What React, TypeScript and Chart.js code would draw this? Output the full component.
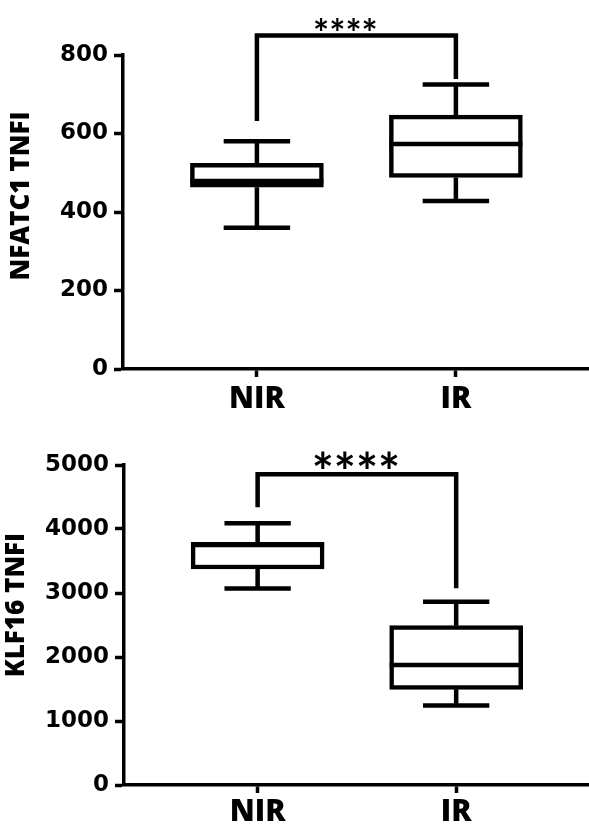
import React, { useEffect, useRef } from 'react';
import { Chart, registerables } from 'chart.js';

Chart.register(...registerables);

// ---------- data ----------
const CATEGORIES = ['NIR', 'IR'];
const SIGNIFICANCE = '****';

const NFATC1_TITLE = 'NFATC1 TNFI';
const NFATC1_TICKS = [0, 200, 400, 600, 800];
const NFATC1_MIN = [360, 428];
const NFATC1_Q1 = [463, 488];
const NFATC1_MEDIAN = [479, 573];
const NFATC1_Q3 = [524, 647];
const NFATC1_MAX = [580, 725];
// bracket: [left leg end, bar height, right leg end]
const NFATC1_BRACKET = [632, 850, 739];

const KLF16_TITLE = 'KLF16 TNFI';
const KLF16_TICKS = [0, 1000, 2000, 3000, 4000, 5000];
const KLF16_MIN = [3070, 1242];
const KLF16_Q1 = [3375, 1495];
const KLF16_MEDIAN = [3750, 1875];
const KLF16_Q3 = [3792, 2489];
const KLF16_MAX = [4091, 2864];
const KLF16_BRACKET = [4339, 4855, 3073];

// ---------- style / layout ----------
const W = 589;
const LINE = 4.5;
const AXIS_LINE = 3.5;
const CAP_HALF = 0.167; // x units
const X_MIN = 0.327;
const X_MAX = 2.669;
const LABEL_FONT = 'Open Sans';

type Panel = {
  title: string;
  ticks: number[];
  min: number[];
  q1: number[];
  median: number[];
  q3: number[];
  max: number[];
  bracket: number[];
  height: number;
  padTop: number;
  xAxisHeight: number;
  yAxisWidth: number;
  labelPad: number;
  titleX: number;
  titleY: number;
  starSize: number;
  starDX: number;
  starDY: number;
};

const PANELS: Panel[] = [
  {
    title: NFATC1_TITLE, ticks: NFATC1_TICKS, min: NFATC1_MIN, q1: NFATC1_Q1,
    median: NFATC1_MEDIAN, q3: NFATC1_Q3, max: NFATC1_MAX, bracket: NFATC1_BRACKET,
    height: 420, padTop: 55, xAxisHeight: 51, yAxisWidth: 123, labelPad: 4,
    titleX: 22, titleY: 196, starSize: 38, starDX: -11, starDY: 12,
  },
  {
    title: KLF16_TITLE, ticks: KLF16_TICKS, min: KLF16_MIN, q1: KLF16_Q1,
    median: KLF16_MEDIAN, q3: KLF16_Q3, max: KLF16_MAX, bracket: KLF16_BRACKET,
    height: 409, padTop: 45, xAxisHeight: 44, yAxisWidth: 124, labelPad: 1,
    titleX: 17, titleY: 185, starSize: 52, starDX: -1, starDY: 17,
  },
];

function makeConfig(p: Panel): any {
  const boxPlugin = {
    id: 'boxExtras',
    afterDatasetsDraw(chart: any) {
      const ctx = chart.ctx;
      const xs = chart.scales.x;
      const ys = chart.scales.y;
      const meta = chart.getDatasetMeta(0);
      ctx.save();
      ctx.strokeStyle = '#000';
      ctx.lineWidth = LINE;
      ctx.lineCap = 'butt';
      CATEGORIES.forEach((_, i) => {
        const el = meta.data[i];
        const { x, width } = el.getProps(['x', 'width'], true);
        const cx = xs.getPixelForValue(i + 1);
        const capL = xs.getPixelForValue(i + 1 - CAP_HALF);
        const capR = xs.getPixelForValue(i + 1 + CAP_HALF);
        // whiskers
        ctx.beginPath();
        ctx.moveTo(cx, ys.getPixelForValue(p.q3[i]));
        ctx.lineTo(cx, ys.getPixelForValue(p.max[i]));
        ctx.moveTo(cx, ys.getPixelForValue(p.q1[i]));
        ctx.lineTo(cx, ys.getPixelForValue(p.min[i]));
        ctx.stroke();
        ctx.beginPath();
        ctx.moveTo(capL, ys.getPixelForValue(p.max[i]));
        ctx.lineTo(capR, ys.getPixelForValue(p.max[i]));
        ctx.moveTo(capL, ys.getPixelForValue(p.min[i]));
        ctx.lineTo(capR, ys.getPixelForValue(p.min[i]));
        ctx.stroke();
        // median
        ctx.beginPath();
        ctx.moveTo(x - width / 2, ys.getPixelForValue(p.median[i]));
        ctx.lineTo(x + width / 2, ys.getPixelForValue(p.median[i]));
        ctx.stroke();
      });
      // significance bracket
      const x1 = xs.getPixelForValue(1);
      const x2 = xs.getPixelForValue(2);
      const yTop = ys.getPixelForValue(p.bracket[1]);
      ctx.lineJoin = 'miter';
      ctx.beginPath();
      ctx.moveTo(x1, ys.getPixelForValue(p.bracket[0]));
      ctx.lineTo(x1, yTop);
      ctx.lineTo(x2, yTop);
      ctx.lineTo(x2, ys.getPixelForValue(p.bracket[2]));
      ctx.stroke();
      ctx.fillStyle = '#000';
      ctx.font = `bold ${p.starSize}px Lato`;
      ctx.textAlign = 'center';
      ctx.textBaseline = 'alphabetic';
      ctx.fillText(SIGNIFICANCE, (x1 + x2) / 2 + p.starDX, yTop + p.starDY);
      // y-axis title
      ctx.save();
      ctx.translate(p.titleX, p.titleY);
      ctx.rotate(-Math.PI / 2);
      ctx.font = `800 26px "${LABEL_FONT}"`;
      ctx.textAlign = 'center';
      ctx.textBaseline = 'middle';
      ctx.fillText(p.title, 0, 0);
      ctx.restore();
      ctx.restore();
    },
  };

  return {
    type: 'bar',
    data: {
      datasets: [
        {
          data: CATEGORIES.map((_, i) => ({ x: i + 1, y: [p.q1[i], p.q3[i]] })),
          backgroundColor: '#fff',
          borderColor: '#000',
          borderWidth: LINE,
          borderSkipped: false,
          barThickness: 133,
        },
      ],
    },
    options: {
      responsive: false,
      animation: false,
      devicePixelRatio: 1,
      layout: { padding: { top: p.padTop, left: 0, right: 0, bottom: 0 } },
      plugins: { legend: { display: false }, tooltip: { enabled: false } },
      scales: {
        x: {
          type: 'linear',
          offset: false,
          min: X_MIN,
          max: X_MAX,
          afterBuildTicks: (s: any) => {
            s.ticks = CATEGORIES.map((_, i) => ({ value: i + 1 }));
          },
          afterFit: (s: any) => {
            s.height = p.xAxisHeight;
          },
          ticks: {
            callback: (v: number) => CATEGORIES[Math.round(v) - 1],
            color: '#000',
            font: { family: LABEL_FONT, weight: '800', size: 30 },
            padding: p.labelPad,
            maxRotation: 0,
            autoSkip: false,
          },
          grid: {
            display: true,
            offset: false,
            drawOnChartArea: false,
            drawTicks: true,
            tickLength: 8,
            tickWidth: AXIS_LINE,
            tickColor: '#000',
          },
          border: { display: true, color: '#000', width: AXIS_LINE },
        },
        y: {
          type: 'linear',
          min: p.ticks[0],
          max: p.ticks[p.ticks.length - 1],
          afterBuildTicks: (s: any) => {
            s.ticks = p.ticks.map((v) => ({ value: v }));
          },
          afterFit: (s: any) => {
            s.width = p.yAxisWidth;
          },
          ticks: {
            color: '#000',
            font: { family: 'DejaVu Sans', weight: 'bold', size: 23 },
            padding: 6,
            callback: (v: number) => String(v),
          },
          grid: {
            display: true,
            drawOnChartArea: false,
            drawTicks: true,
            tickLength: 9,
            tickWidth: AXIS_LINE,
            tickColor: '#000',
          },
          border: { display: true, color: '#000', width: AXIS_LINE },
        },
      },
    },
    plugins: [boxPlugin],
  };
}

function BoxChart({ panel, top }: { panel: Panel; top: number }) {
  const ref = useRef<HTMLCanvasElement | null>(null);
  useEffect(() => {
    if (!ref.current) return;
    const chart = new Chart(ref.current, makeConfig(panel));
    return () => chart.destroy();
  }, [panel]);
  return (
    <canvas
      ref={ref}
      width={W}
      height={panel.height}
      style={{ position: 'absolute', left: 0, top, width: W, height: panel.height, display: 'block' }}
    />
  );
}

export default function App() {
  return (
    <div style={{ position: 'absolute', left: 0, top: 0, width: W, height: 829, background: '#fff' }}>
      <BoxChart panel={PANELS[0]} top={0} />
      <BoxChart panel={PANELS[1]} top={420} />
    </div>
  );
}
